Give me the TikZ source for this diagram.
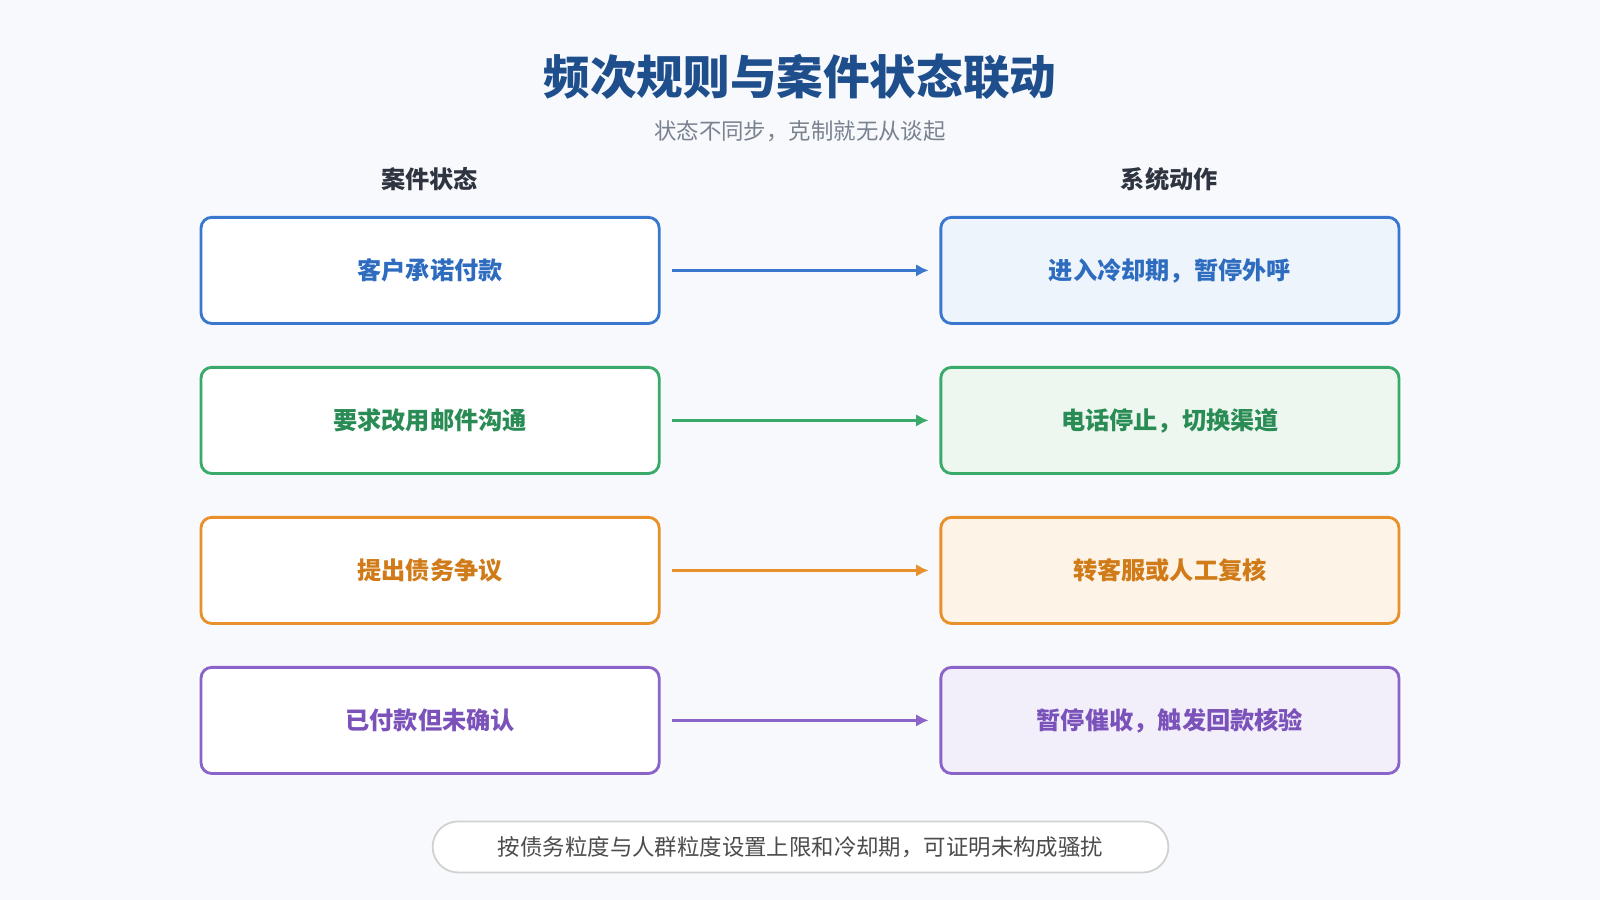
\documentclass[tikz,border=0pt]{standalone}
\usepackage{fontspec}
\setmainfont{Noto Sans CJK SC}
\usetikzlibrary{arrows.meta}
\definecolor{bg}{HTML}{F7F9FC}
\definecolor{ttl}{HTML}{1F4E8C}
\definecolor{sub}{HTML}{7A8290}
\definecolor{hdr}{HTML}{2E3440}
\definecolor{cb}{HTML}{3A78D0}\definecolor{fb}{HTML}{EDF4FC}
\definecolor{cg}{HTML}{3AAA6A}\definecolor{fg}{HTML}{EDF7F0}
\definecolor{co}{HTML}{E8902A}\definecolor{fo}{HTML}{FDF3E6}
\definecolor{cp}{HTML}{8A64C8}\definecolor{fp}{HTML}{F3EFFA}
\definecolor{tb}{HTML}{2E6CC0}\definecolor{tg}{HTML}{2A8C55}
\definecolor{to}{HTML}{D07A18}\definecolor{tp}{HTML}{7A52BA}
\tikzset{
 box/.style={draw=#1,line width=1.6pt,rounded corners=6pt,minimum width=449*0.02cm,minimum height=104*0.02cm,fill=white},
 txt/.style={font=\fontsize{13.5}{16}\selectfont\bfseries},
 arr/.style={draw=#1,line width=1.3pt,-{Latex[length=7pt,width=7pt]}},
 hd/.style={font=\fontsize{13.5}{16}\selectfont\bfseries,text=hdr}
}
\begin{document}
\begin{tikzpicture}[x=0.02cm,y=-0.02cm]
\fill[bg] (0,0) rectangle (1568,882);
\node[font=\fontsize{26}{30}\selectfont\bfseries,text=ttl] (t) at (784,75) {频次规则与案件状态联动};
\node[font=\fontsize{12.5}{15}\selectfont,text=sub] (s) at (784,129) {状态不同步，克制就无从谈起};
\node[hd] (h1) at (421,176) {案件状态};
\node[hd] (h2) at (1146,176) {系统动作};
\foreach \i/\y/\c/\f/\t/\a/\b in {1/265/cb/fb/tb/客户承诺付款/进入冷却期，暂停外呼,2/412/cg/fg/tg/要求改用邮件沟通/电话停止，切换渠道,3/559/co/fo/to/提出债务争议/转客服或人工复核,4/706/cp/fp/tp/已付款但未确认/暂停催收，触发回款核验}{
 \node[box=\c,txt,text=\t] (l\i) at (421.5,\y) {\a};
 \node[box=\c,fill=\f,txt,text=\t] (r\i) at (1146.5,\y) {\b};
 \coordinate (a\i) at (659,\y); \coordinate (b\i) at (910,\y);
 \draw[arr=\c] (a\i) -- (b\i);
}
\node[draw=black!18,line width=1pt,fill=white,rounded corners=25*0.02cm,minimum width=721*0.02cm,minimum height=50*0.02cm,font=\fontsize{12.5}{15}\selectfont,text=black!70] (f) at (784.5,830) {按债务粒度与人群粒度设置上限和冷却期，可证明未构成骚扰};
\end{tikzpicture}
\end{document}
